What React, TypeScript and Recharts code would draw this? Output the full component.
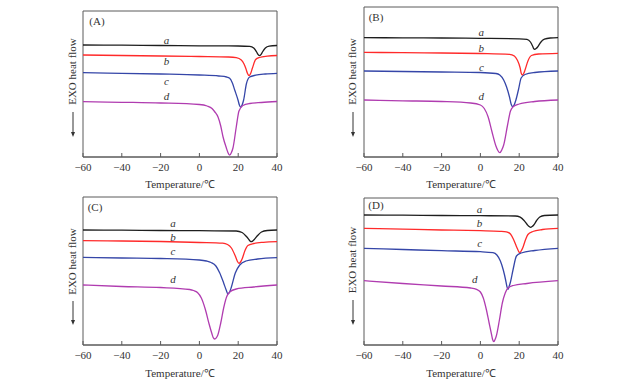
import React from 'react';
import { LineChart, Line, XAxis, YAxis, ReferenceArea, ReferenceDot } from 'recharts';

type Pt = [number, number];

// temperature (°C) vs heat flow (a.u., 0 = bottom of the frame)
const xTicks = [-60, -40, -20, 0, 20, 40];
const curveNames = ['a', 'b', 'c', 'd'];
const panelNames = ['(A)', '(B)', '(C)', '(D)'];

const A_a: Pt[] = [[-60, 112], [-40, 111.8], [-20, 111.5], [0, 111.2], [20, 111], [26, 110.6], [28, 109], [29.5, 105], [30.3, 102.3], [31, 101.3], [31.7, 102.3], [32.5, 105], [34, 109], [36, 110.8], [40, 111.5]];
const A_b: Pt[] = [[-60, 102], [-40, 101.5], [-20, 101], [0, 100.5], [15, 100], [19, 99.3], [21.6, 97], [23, 93], [23.9, 88.7], [24.8, 83.5], [25.6, 81.3], [26.4, 83.5], [27.3, 88.7], [29, 97.5], [31, 99.5], [35, 100.8], [40, 101.5]];
const A_c: Pt[] = [[-60, 84.3], [-40, 83.7], [-20, 83], [0, 82], [10, 81], [14, 80], [15.6, 78.7], [17, 74], [18.2, 67], [19.9, 57], [20.6, 52], [21.3, 49.7], [22, 52], [22.8, 57], [24.2, 73], [25.9, 80], [29, 81.8], [34, 83], [40, 83.7]];
const A_d: Pt[] = [[-60, 55.3], [-40, 54.7], [-20, 54], [0, 52.5], [4, 51], [6.5, 48.5], [8, 45], [9.6, 40], [11, 31], [12.2, 20], [13.9, 9], [14.7, 4.5], [15.6, 1.8], [16.5, 4.5], [17.3, 9], [19, 30], [20.4, 46], [22.4, 51.5], [26, 53.5], [32, 54.5], [40, 55.5]];

const B_a: Pt[] = [[-60, 119.3], [-40, 119.2], [-20, 119], [0, 118.7], [20, 118.2], [24, 117.6], [25.8, 115], [27, 110.5], [27.4, 108.7], [28, 107.7], [28.7, 108.5], [29.5, 110], [31, 114.5], [33, 117.8], [36, 119], [40, 119.3]];
const B_b: Pt[] = [[-60, 104.7], [-40, 104.3], [-20, 104], [0, 103.5], [15, 102.7], [17.5, 101], [19, 97], [20.5, 89], [21, 84], [21.6, 82], [22.3, 83.5], [23, 87], [24.5, 96], [26.3, 101.5], [30, 103], [40, 103.7]];
const B_c: Pt[] = [[-60, 86], [-40, 85.5], [-20, 85], [0, 84.5], [8, 83.5], [10, 82], [12, 77], [13.5, 70], [15, 60], [15.9, 52.5], [16.7, 50.3], [17.5, 52.5], [18.3, 57], [19.7, 68], [21, 79], [23, 82.5], [28, 84.5], [40, 86]];
const B_d: Pt[] = [[-60, 57], [-40, 56.2], [-20, 55.5], [-5, 54], [0, 52], [2, 48.5], [4, 40], [6, 25], [8, 11], [9, 6.5], [10, 4.3], [11, 7], [12, 12], [14, 32], [15.5, 46], [17, 50.5], [20, 53], [28, 55.5], [40, 57]];

const C_a: Pt[] = [[-60, 115], [-40, 114.8], [-20, 114.5], [0, 114.3], [19, 114], [22, 112.5], [24, 109], [25.5, 105.5], [26.1, 104], [26.8, 103.3], [27.5, 104], [28.3, 105.5], [30, 109.5], [32, 113], [35, 114.5], [40, 115]];
const C_b: Pt[] = [[-60, 104.3], [-40, 104], [-20, 103.5], [0, 102.5], [12, 101.8], [14.5, 100.5], [16.5, 97], [18.5, 89], [19.5, 84], [20.4, 81.7], [21.2, 83], [22, 86], [23.5, 94.5], [25, 99.5], [28, 101.5], [33, 102.7], [40, 103.3]];
const C_c: Pt[] = [[-60, 87.7], [-40, 87], [-20, 86.5], [0, 85], [3.6, 84], [6, 82.5], [8.5, 79], [10.5, 72], [12.5, 62], [13.8, 55], [14.7, 51], [15.6, 53], [16.5, 58], [18.5, 72], [20.8, 80], [24, 84], [30, 86], [40, 87.3]];
const C_d: Pt[] = [[-60, 60], [-40, 58.5], [-20, 57.5], [-5, 55.5], [-3, 54.5], [-1, 52.5], [1, 47], [3, 36], [5, 21], [6.5, 11], [7.1, 7.5], [7.9, 6], [8.7, 7.2], [9.5, 10], [11, 22], [12.5, 37], [14, 48], [15.6, 53], [19, 56], [28, 58], [40, 60]];

const D_a: Pt[] = [[-60, 130], [-40, 129.8], [-20, 129.5], [0, 129.3], [18, 129], [20.5, 127.8], [22.5, 124.5], [24.3, 120], [25.1, 118.5], [25.9, 117.7], [26.7, 118.5], [27.5, 120], [29, 124.5], [30.6, 128], [33, 129.5], [40, 130]];
const D_b: Pt[] = [[-60, 116.7], [-40, 115.8], [-20, 115], [0, 114.3], [10, 113.7], [13.4, 113.2], [15.5, 111], [17.2, 105], [18.8, 97.5], [19.6, 94], [20.3, 92.3], [21, 94], [21.8, 97], [23.2, 105], [24.5, 110.5], [27, 113.5], [32, 115.5], [40, 116.7]];
const D_c: Pt[] = [[-60, 96.7], [-40, 95.5], [-20, 94.3], [0, 93.3], [6.5, 92.3], [8.5, 90], [10.3, 84], [11.8, 75], [13, 65], [13.6, 59], [14.2, 55.7], [14.8, 58.5], [15.5, 63], [16.8, 75], [18.6, 89], [21, 92], [28, 94.5], [40, 96.7]];
const D_d: Pt[] = [[-60, 64.3], [-40, 61.5], [-20, 59], [-5, 57], [-2, 55.7], [0, 53], [1.5, 47], [3, 36], [4.5, 22], [5.8, 10], [6.3, 5.5], [6.9, 3.3], [7.5, 5.3], [8.2, 9], [9.8, 25], [11.3, 42], [12.8, 52], [14.2, 57], [17, 59.5], [24, 61.5], [40, 64.3]];

const panelCurves = [
    [A_a, A_b, A_c, A_d],
    [B_a, B_b, B_c, B_d],
    [C_a, C_b, C_c, C_d],
    [D_a, D_b, D_c, D_d],
];

// where the a/b/c/d tags sit, in data units
const tagT = [[-17, -17, -17, -17], [0.5, 0.5, 0.5, 0.5], [-13.6, -13.6, -13.6, -13.6], [-0.4, -0.4, -0.4, -2.9]];
const tagV = [[115.3, 94.3, 74.7, 59.3], [123.7, 107.7, 88.7, 59.7], [120.7, 106.7, 92.3, 65], [135, 120.7, 100.7, 64.3]];
const yMax = [146, 150, 148, 147];

// layout (px)
const layout = [
    { left: 60, top: 0, width: 230, height: 190, margin: { top: 11, right: 13, left: 23, bottom: 0 }, axisH: 33 },
    { left: 340, top: 0, width: 230, height: 190, margin: { top: 7, right: 12, left: 24, bottom: 0 }, axisH: 33 },
    { left: 60, top: 190, width: 230, height: 189, margin: { top: 7, right: 13, left: 23, bottom: 0 }, axisH: 34 },
    { left: 340, top: 190, width: 230, height: 189, margin: { top: 8, right: 12, left: 24, bottom: 0 }, axisH: 34 },
];
const overlayPos = [
    { tagX: 97, tagY: 22, yLabX: 73, yLabY: 71.5, arrowX: 73, arrowY1: 112, arrowY2: 137 },
    { tagX: 376, tagY: 18, yLabX: 353, yLabY: 71.5, arrowX: 353, arrowY1: 112, arrowY2: 137 },
    { tagX: 95, tagY: 208, yLabX: 73, yLabY: 261.5, arrowX: 73, arrowY1: 301, arrowY2: 325 },
    { tagX: 376, tagY: 206, yLabX: 353, yLabY: 260, arrowX: 353, arrowY1: 300, arrowY2: 325 },
];

const colors = ['#1e1e1e', '#ff2a2a', '#3546a8', '#b03cb0'];
const FONT = '"Liberation Serif", "Times New Roman", serif';
const AXIS = '#5a5a5a';
const TEXT = '#333';

const fmt = (v: number) => (v < 0 ? `\u2212${Math.abs(v)}` : `${v}`);

const Tick = (props: any) => {
    const { x, y, payload } = props;
    return (
        <g>
            <line x1={x} x2={x} y1={y} y2={y - 4} stroke={AXIS} strokeWidth={1} />
            <text x={x} y={y + 11} textAnchor="middle" dominantBaseline="middle" fontFamily={FONT} fontSize={11} fill={TEXT}>
                {fmt(payload.value)}
            </text>
        </g>
    );
};

function Panel({ idx }: { idx: number }) {
    const lay = layout[idx];
    const curves = panelCurves[idx];
    return (
        <div style={{ position: 'absolute', left: lay.left, top: lay.top }}>
            <LineChart width={lay.width} height={lay.height} margin={lay.margin}>
                <XAxis
                    dataKey="t"
                    type="number"
                    domain={[-60, 40]}
                    ticks={xTicks}
                    interval={0}
                    allowDataOverflow
                    height={lay.axisH}
                    tickSize={0}
                    tickMargin={0}
                    tickLine={false}
                    tick={<Tick />}
                    axisLine={{ stroke: AXIS }}
                    label={{ value: 'Temperature/\u2103', position: 'insideBottom', offset: 2, fill: TEXT, fontSize: 11, fontFamily: FONT }}
                />
                <YAxis hide type="number" domain={[0, yMax[idx]]} />
                <ReferenceArea x1={-60} x2={40} y1={0} y2={yMax[idx]} fill="none" fillOpacity={0} stroke={AXIS} strokeWidth={1} ifOverflow="visible" />
                {curves.map((pts, i) => (
                    <Line
                        key={curveNames[i]}
                        data={pts.map(([t, v]) => ({ t, v }))}
                        dataKey="v"
                        type="monotone"
                        stroke={colors[i]}
                        strokeWidth={1.3}
                        dot={false}
                        activeDot={false}
                        isAnimationActive={false}
                    />
                ))}
                {curveNames.map((n, i) => (
                    <ReferenceDot
                        key={'tag' + n}
                        x={tagT[idx][i]}
                        y={tagV[idx][i]}
                        r={0}
                        shape={(p: any) => (
                            <text x={p.cx} y={p.cy} textAnchor="middle" dominantBaseline="middle" fontFamily={FONT} fontStyle="italic" fontSize={11} fill={TEXT}>
                                {n}
                            </text>
                        )}
                    />
                ))}
            </LineChart>
        </div>
    );
}

export default function App() {
    return (
        <div style={{ position: 'absolute', left: 0, top: 0, width: 624, height: 379, background: '#fff', overflow: 'hidden' }}>
            {[0, 1, 2, 3].map(i => <Panel key={i} idx={i} />)}
            <svg width={624} height={379} style={{ position: 'absolute', left: 0, top: 0, pointerEvents: 'none' }}>
                {overlayPos.map((o, i) => (
                    <g key={i}>
                        <text x={o.tagX} y={o.tagY} textAnchor="middle" dominantBaseline="middle" fontFamily={FONT} fontSize={11} fill={TEXT}>
                            {panelNames[i]}
                        </text>
                        <text
                            x={o.yLabX}
                            y={o.yLabY}
                            transform={`rotate(-90 ${o.yLabX} ${o.yLabY})`}
                            textAnchor="middle"
                            dominantBaseline="middle"
                            fontFamily={FONT}
                            fontSize={11}
                            fill={TEXT}
                        >
                            EXO heat flow
                        </text>
                        <line x1={o.arrowX} x2={o.arrowX} y1={o.arrowY1} y2={o.arrowY2 - 4} stroke={TEXT} strokeWidth={1} />
                        <path d={`M${o.arrowX - 2} ${o.arrowY2 - 5} L${o.arrowX + 2} ${o.arrowY2 - 5} L${o.arrowX} ${o.arrowY2} Z`} fill={TEXT} />
                    </g>
                ))}
            </svg>
        </div>
    );
}
